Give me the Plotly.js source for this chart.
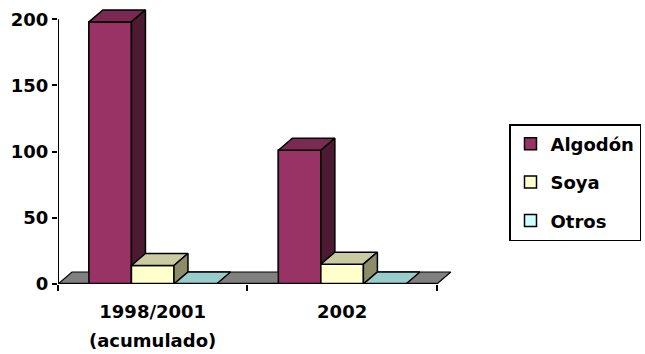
<!DOCTYPE html>
<html>
<head>
<meta charset="utf-8">
<script src="https://cdn.plot.ly/plotly-3.0.1.min.js"></script>
<style>
  html, body { margin: 0; padding: 0; background: #fff; }
  #chart { width: 645px; height: 354px; }
</style>
</head>
<body>
<div id="chart"></div>
<script>
// Production by crop (3-D column chart)
const categories = ['1998/2001', '2002'];
const categoryNotes = ['(acumulado)', ''];
const seriesNames = ['Algodón', 'Soya', 'Otros'];
const algodon = [198, 101];
const soya = [14, 15];
const otros = [0, 0];
const yTicks = [0, 50, 100, 150, 200];

const seriesValues = [algodon, soya, otros];
// front, top, side face colours per series
const frontColors = ['#993366', '#ffffcc', '#ccffff'];
const topColors = ['#7a2952', '#cbcba3', '#99cccc'];
const sideColors = ['#4d1a33', '#8c8c6b', '#669999'];
const floorColor = '#808080';

// plot geometry (pixels) and axis ranges
const W = 645, H = 354;
const M = { l: 58, r: 193, t: 6, b: 70, autoexpand: false };
const PW = W - M.l - M.r, PH = H - M.t - M.b;
const xRange = [0, 2.08];
const yRange = [0, 210];

// depth of the 3-D extrusion, converted from pixels to data units
const depthX = 14 * (xRange[1] - xRange[0]) / PW;
const depthY = 12 * (yRange[1] - yRange[0]) / PH;

const nCat = categories.length;
const nSer = seriesNames.length;
const barW = 0.2245;
const gap = (1 - nSer * barW) / 2;

function poly(xs, ys, fill, lw) {
  return {
    type: 'scatter', mode: 'lines', x: xs.concat([xs[0]]), y: ys.concat([ys[0]]),
    fill: 'toself', fillcolor: fill,
    line: { color: '#000', width: lw || 1.5 },
    hoverinfo: 'skip', showlegend: false
  };
}

const traces = [];

// legend entries (bars, overpainted by the extruded faces below)
for (let j = 0; j < nSer; j++) {
  traces.push({
    type: 'bar', name: seriesNames[j], legendgroup: seriesNames[j],
    x: categories.map((c, i) => i + gap + j * barW + barW / 2),
    y: seriesValues[j], width: barW,
    marker: { color: frontColors[j], line: { color: '#000', width: 1.5 } },
    hoverinfo: 'skip'
  });
}

// floor
traces.push(poly([0, nCat, nCat + depthX, depthX], [0, 0, depthY, depthY], floorColor, 1.2));

// columns: front, top and side faces, painted left to right
for (let i = 0; i < nCat; i++) {
  for (let j = 0; j < nSer; j++) {
    const v = seriesValues[j][i];
    const x0 = i + gap + j * barW, x1 = x0 + barW;
    if (v > 0) traces.push(poly([x0, x1, x1, x0], [0, 0, v, v], frontColors[j]));
    traces.push(poly([x0, x1, x1 + depthX, x0 + depthX], [v, v, v + depthY, v + depthY], topColors[j]));
    if (v > 0) traces.push(poly([x1, x1 + depthX, x1 + depthX, x1], [0, depthY, v + depthY, v], sideColors[j]));
  }
}

const font = { family: 'DejaVu Sans, Arial, sans-serif', size: 18, color: '#000', weight: 'bold' };

// second line of each category label
const annotations = categoryNotes.map((t, i) => ({
  text: t, x: i + 0.5, xref: 'x', yref: 'paper',
  y: -(340 - (H - M.b)) / PH, yanchor: 'middle', xanchor: 'center',
  showarrow: false, font: font
})).filter(a => a.text);

const layout = {
  width: W, height: H,
  margin: M,
  paper_bgcolor: '#fff', plot_bgcolor: 'rgba(0,0,0,0)',
  barmode: 'overlay',
  hovermode: false,
  font: font,
  showlegend: true,
  legend: {
    x: (509 - M.l) / PW, y: (H - M.b - 124) / PH, xanchor: 'left', yanchor: 'top',
    bgcolor: '#fff', bordercolor: '#000', borderwidth: 1.5,
    font: font, traceorder: 'grouped', tracegroupgap: 12,
    itemclick: false, itemdoubleclick: false
  },
  xaxis: {
    range: xRange, fixedrange: true,
    tickvals: categories.map((c, i) => i + 0.5), ticktext: categories,
    ticks: '', showline: false, zeroline: false, showgrid: false,
    ticklabelstandoff: 15,
    tickfont: font,
    minor: { tickvals: categories.map((c, i) => i).concat([nCat]), ticks: 'outside', ticklen: 6, tickwidth: 2, tickcolor: '#000', showgrid: false }
  },
  yaxis: {
    range: yRange, fixedrange: true,
    tickvals: yTicks, ticktext: yTicks.map(String),
    ticks: 'outside', ticklen: 5, tickwidth: 2, tickcolor: '#000',
    showline: false, zeroline: false, showgrid: false,
    tickfont: font
  },
  annotations: annotations,
  shapes: [
    // value axis
    { type: 'line', xref: 'x', yref: 'y', x0: 0, x1: 0, y0: 0, y1: yTicks[yTicks.length - 1], line: { color: '#000', width: 2 }, layer: 'above' },
    // front edge of the floor (category axis)
    { type: 'line', xref: 'x', yref: 'y', x0: 0, x1: nCat, y0: 0, y1: 0, line: { color: '#000', width: 2.5 }, layer: 'above' }
  ]
};

Plotly.newPlot('chart', traces, layout, { displayModeBar: false, staticPlot: true });
</script>
</body>
</html>
